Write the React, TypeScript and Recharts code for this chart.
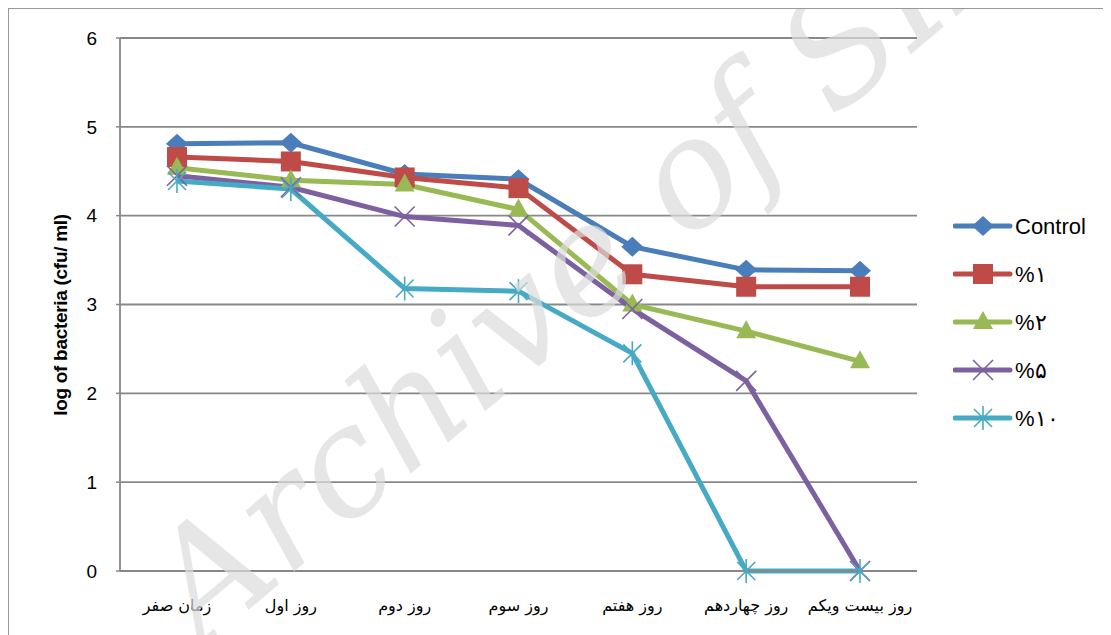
import React from 'react';
import { LineChart, Line, XAxis, YAxis, CartesianGrid } from 'recharts';

const categories = ['زمان صفر', 'روز اول', 'روز دوم', 'روز سوم', 'روز هفتم', 'روز چهاردهم', 'روز بیست ویکم'];
const controlValues = [4.81, 4.82, 4.47, 4.41, 3.65, 3.39, 3.38];
const pct1Values = [4.66, 4.61, 4.43, 4.31, 3.34, 3.2, 3.2];
const pct2Values = [4.54, 4.4, 4.35, 4.07, 3.0, 2.7, 2.36];
const pct5Values = [4.45, 4.32, 3.99, 3.89, 2.95, 2.14, 0];
const pct10Values = [4.39, 4.3, 3.18, 3.15, 2.45, 0, 0];
const seriesNames = ['Control', '%۱', '%۲', '%۵', '%۱۰'];
const seriesKeys = ['control', 'p1', 'p2', 'p5', 'p10'];
const seriesColors = ['#4A7EBB', '#BE4B48', '#98B954', '#7D60A0', '#46AAC5'];
const markerTypes = ['diamond', 'square', 'triangle', 'x', 'star'];
const yTicks = [0, 1, 2, 3, 4, 5, 6];
const yTitle = 'log of bacteria (cfu/ ml)';

const seriesValues = [controlValues, pct1Values, pct2Values, pct5Values, pct10Values];
const data = categories.map((c, i) => {
  const row: any = { name: c };
  seriesKeys.forEach((k, s) => {
    row[k] = seriesValues[s][i];
  });
  return row;
});

function Marker({ type, cx, cy, color }: { type: string; cx: number; cy: number; color: string }) {
  if (type === 'diamond') {
    return <polygon points={`${cx},${cy - 10} ${cx + 11},${cy} ${cx},${cy + 10} ${cx - 11},${cy}`} fill={color} />;
  }
  if (type === 'square') {
    return <rect x={cx - 10} y={cy - 10} width={20} height={20} fill={color} />;
  }
  if (type === 'triangle') {
    return <polygon points={`${cx},${cy - 11} ${cx + 10},${cy + 7} ${cx - 10},${cy + 7}`} fill={color} />;
  }
  if (type === 'x') {
    return (
      <g stroke={color} strokeWidth={1.6}>
        <line x1={cx - 10} y1={cy - 10} x2={cx + 10} y2={cy + 10} />
        <line x1={cx - 10} y1={cy + 10} x2={cx + 10} y2={cy - 10} />
      </g>
    );
  }
  return (
    <g stroke={color} strokeWidth={1.6}>
      <line x1={cx - 9} y1={cy - 9} x2={cx + 9} y2={cy + 9} />
      <line x1={cx - 9} y1={cy + 9} x2={cx + 9} y2={cy - 9} />
      <line x1={cx} y1={cy - 12} x2={cx} y2={cy + 12} />
    </g>
  );
}

const makeDot = (s: number) => (props: any) => {
  const { cx, cy, index } = props;
  if (cx == null || cy == null) return <g key={`d-${s}-${index}`} />;
  return (
    <g key={`d-${s}-${index}`}>
      <Marker type={markerTypes[s]} cx={cx} cy={cy} color={seriesColors[s]} />
    </g>
  );
};

const LegendBox = () => (
  <svg width={170} height={240} style={{ position: 'absolute', left: 945, top: 205, pointerEvents: 'none' }}>
    {seriesNames.map((n, s) => {
      const y = 13 + s * 48;
      return (
        <g key={n}>
          <line x1={2} y1={y} x2={57} y2={y} stroke={seriesColors[s]} strokeWidth={5} strokeLinecap="round" />
          <Marker type={markerTypes[s]} cx={30} cy={y} color={seriesColors[s]} />
          <text x={62} y={y + 8} fontSize={22} fontFamily="'Liberation Sans', Arial, sans-serif" fill="#000" style={{ direction: 'ltr' } as any}>
            {n}
          </text>
        </g>
      );
    })}
  </svg>
);

const YLabel = () => (
  <text
    x={52}
    y={307}
    transform="rotate(-90, 52, 307)"
    textAnchor="middle"
    dominantBaseline="central"
    fontSize={19}
    fontWeight="bold"
    letterSpacing={-0.3}
    fontFamily="'Liberation Sans', Arial, sans-serif"
    fill="#000"
  >
    {yTitle}
  </text>
);

export default function App() {
  return (
    <div style={{ position: 'relative', width: 1103, height: 627, fontFamily: "'Liberation Sans', Arial, sans-serif" }}>
      <LineChart width={1103} height={627} data={data} margin={{ top: 30, right: 194, bottom: 24, left: 0 }}>
        <CartesianGrid vertical={false} stroke="#888" strokeWidth={1.8} />
        <XAxis
          dataKey="name"
          axisLine={{ stroke: '#888', strokeWidth: 1.8 }}
          tickLine={false}
          tickSize={0}
          tickMargin={29}
          height={40}
          interval={0}
          padding={{ left: 57, right: 57 }}
          tick={{ fontSize: 16, fill: '#000', fontFamily: "'DejaVu Sans', sans-serif" }}
        />
        <YAxis
          domain={[0, 6]}
          ticks={yTicks}
          width={112}
          axisLine={{ stroke: '#888', strokeWidth: 1.8 }}
          tickLine={{ stroke: '#888', strokeWidth: 1.5 }}
          tickSize={4}
          tickMargin={19}
          tick={{ fontSize: 19, fill: '#000', fontFamily: "'Liberation Sans', Arial, sans-serif" }}
          label={{ content: () => <YLabel /> }}
        />
        {seriesKeys.map((k, s) => (
          <Line
            key={k}
            type="linear"
            dataKey={k}
            name={seriesNames[s]}
            stroke={seriesColors[s]}
            strokeWidth={5}
            dot={makeDot(s)}
            activeDot={false}
            isAnimationActive={false}
          />
        ))}
      </LineChart>
      <LegendBox />
      <svg width={1103} height={627} style={{ position: 'absolute', left: 0, top: 0, pointerEvents: 'none' }}>
        <text
          x={195}
          y={640}
          transform="rotate(-40, 195, 640)"
          fontSize={150}
          fontStyle="italic"
          fontFamily="'DejaVu Serif', serif"
          fill="#dcdcdc"
          opacity={0.7}
        >
          Archive of SID
        </text>
        <line x1={0} y1={0} x2={1103} y2={0} stroke="#999" strokeWidth={2} />
        <line x1={0} y1={0} x2={0} y2={627} stroke="#999" strokeWidth={2} />
      </svg>
    </div>
  );
}
